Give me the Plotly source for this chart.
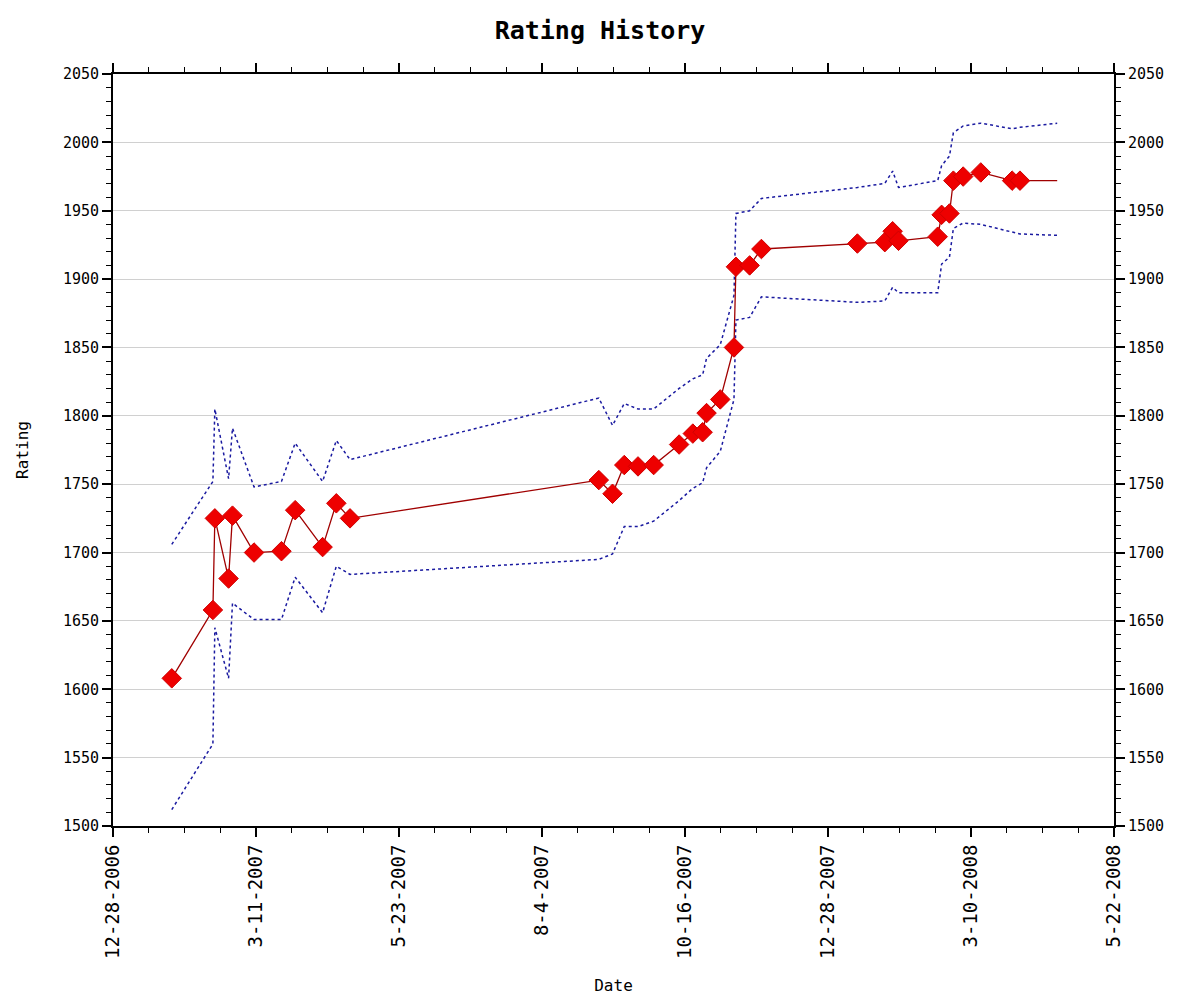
import plotly.graph_objects as go

# ---- data ----
game_dates = [
    "2007-01-27", "2007-02-17", "2007-02-18", "2007-02-25", "2007-02-27",
    "2007-03-10", "2007-03-24", "2007-03-31", "2007-04-14", "2007-04-21",
    "2007-04-28", "2007-09-02", "2007-09-09", "2007-09-15", "2007-09-22",
    "2007-09-30", "2007-10-13", "2007-10-20", "2007-10-25", "2007-10-27",
    "2007-11-03", "2007-11-10", "2007-11-11", "2007-11-18", "2007-11-24",
    "2008-01-12", "2008-01-26", "2008-01-30", "2008-02-02", "2008-02-22",
    "2008-02-24", "2008-02-28", "2008-03-01", "2008-03-06", "2008-03-15",
    "2008-03-31", "2008-04-04",
]
ratings = [
    1608, 1658, 1725, 1681, 1727,
    1700, 1701, 1731, 1704, 1736,
    1725, 1753, 1743, 1764, 1763,
    1764, 1779, 1787, 1788, 1802,
    1812, 1850, 1909, 1910, 1922,
    1926, 1927, 1935, 1928, 1931,
    1947, 1948, 1972, 1975, 1978,
    1972, 1972,
]
upper = [
    1706, 1752, 1805, 1754, 1791,
    1748, 1752, 1780, 1752, 1782,
    1768, 1813, 1793, 1809, 1805,
    1805, 1820, 1827, 1830, 1842,
    1852, 1888, 1948, 1950, 1959,
    1967, 1970, 1979, 1967, 1972,
    1983, 1990, 2007, 2012, 2014,
    2010, 2011,
]
lower = [
    1512, 1560, 1645, 1608, 1663,
    1651, 1651, 1682, 1656, 1690,
    1684, 1695, 1699, 1719, 1719,
    1723, 1738, 1747, 1751, 1762,
    1774, 1812, 1870, 1872, 1887,
    1883, 1884, 1894, 1890, 1890,
    1911, 1916, 1937, 1941, 1940,
    1934, 1933,
]
# current (last) state drawn without a marker
current_date = "2008-04-23"
current_rating = 1972
current_upper = 2014
current_lower = 1932

x_tick_dates = ["2006-12-28", "2007-03-11", "2007-05-23", "2007-08-04",
                "2007-10-16", "2007-12-28", "2008-03-10", "2008-05-22"]
x_tick_labels = ["12-28-2006", "3-11-2007", "5-23-2007", "8-4-2007",
                 "10-16-2007", "12-28-2007", "3-10-2008", "5-22-2008"]
y_ticks = [1500, 1550, 1600, 1650, 1700, 1750, 1800, 1850, 1900, 1950, 2000, 2050]

line_dates = game_dates + [current_date]
line_ratings = ratings + [current_rating]
line_upper = upper + [current_upper]
line_lower = lower + [current_lower]

FONT = "DejaVu Sans Mono"
DAY = 86400000

fig = go.Figure()
fig.add_trace(go.Scatter(x=line_dates, y=line_upper, mode="lines",
                         line=dict(color="#1a1aa0", width=1.5, dash="dot"),
                         hoverinfo="skip", showlegend=False))
fig.add_trace(go.Scatter(x=line_dates, y=line_lower, mode="lines",
                         line=dict(color="#1a1aa0", width=1.5, dash="dot"),
                         hoverinfo="skip", showlegend=False))
fig.add_trace(go.Scatter(x=line_dates, y=line_ratings, mode="lines",
                         line=dict(color="#a00000", width=1.3),
                         showlegend=False))
fig.add_trace(go.Scatter(x=game_dates, y=ratings, mode="markers",
                         marker=dict(symbol="diamond", size=15, color="#ee0000",
                                     line=dict(color="#d00000", width=1)),
                         showlegend=False))
# invisible trace to activate the right-hand axis
fig.add_trace(go.Scatter(x=[game_dates[0]], y=[ratings[0]], yaxis="y2",
                         mode="markers", marker=dict(opacity=0),
                         hoverinfo="skip", showlegend=False))

axis_common = dict(showline=True, linecolor="black", linewidth=2,
                   ticks="outside", ticklen=9, tickwidth=1.5, tickcolor="black",
                   tickfont=dict(family=FONT, size=15, color="black"),
                   automargin=False)

fig.update_layout(
    width=1184, height=997,
    paper_bgcolor="white", plot_bgcolor="white",
    margin=dict(l=105, r=78, t=66, b=179),
    title=dict(text="<b>Rating History</b>", x=0.5, xanchor="center",
               y=0.978, yanchor="middle",
               font=dict(family=FONT, size=25, color="black"),
               automargin=False),
    xaxis=dict(
        type="date",
        range=["2006-12-28", "2008-05-22"],
        tickmode="array", tickvals=x_tick_dates, ticktext=x_tick_labels,
        tickangle=-90, mirror="ticks", showgrid=False, zeroline=False,
        minor=dict(ticks="outside", ticklen=5, tickwidth=1.2, tickcolor="black",
                   dtick=18.25 * DAY, tick0="2006-12-28", showgrid=False),
        title=dict(text="Date", font=dict(family=FONT, size=16, color="black"),
                   standoff=22),
        **{**axis_common, "tickfont": dict(family=FONT, size=19, color="black")},
    ),
    yaxis=dict(
        range=[1500, 2050], tickmode="array", tickvals=y_ticks,
        showgrid=True, gridcolor="#d0d0d0", gridwidth=1, zeroline=False,
        mirror=False,
        minor=dict(ticks="outside", ticklen=5, tickwidth=1.2, tickcolor="black",
                   dtick=10, showgrid=False),
        title=dict(text="Rating", font=dict(family=FONT, size=16, color="black"),
                   standoff=30),
        **axis_common,
    ),
    yaxis2=dict(
        range=[1500, 2050], tickmode="array", tickvals=y_ticks,
        overlaying="y", side="right", showgrid=False, zeroline=False,
        minor=dict(ticks="outside", ticklen=5, tickwidth=1.2, tickcolor="black",
                   dtick=10, showgrid=False),
        **axis_common,
    ),
)

fig.write_html("out.html")
